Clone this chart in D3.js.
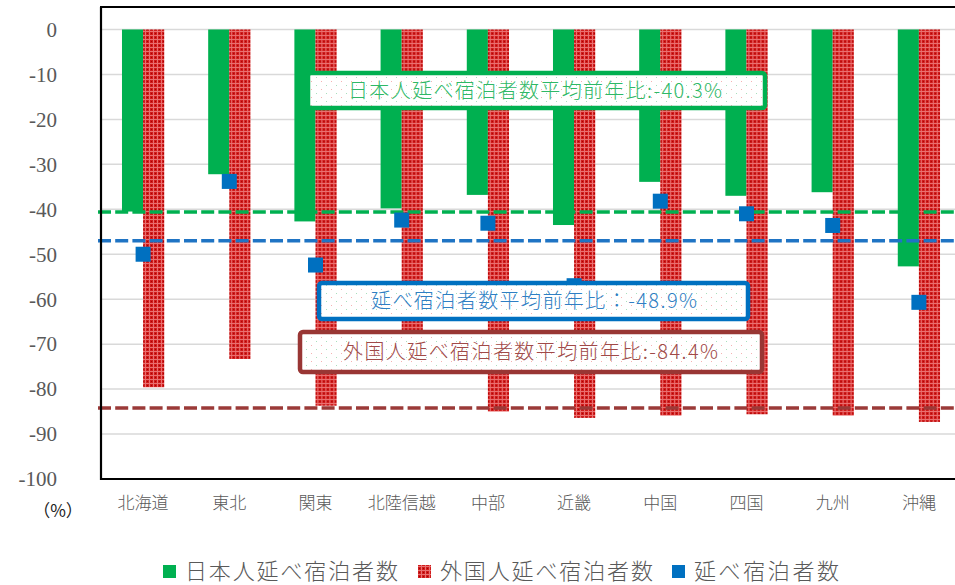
<!DOCTYPE html>
<html>
<head>
<meta charset="utf-8">
<script src="https://cdn.jsdelivr.net/npm/d3@7"></script>
<style>
  body { margin: 0; background: #fff; }
  svg { display: block; }
  .tick-label { font-family: "Liberation Serif", "DejaVu Serif", "Times New Roman", serif; }
  .jp { font-family: "Noto Sans CJK JP", "Noto Sans", sans-serif; }
</style>
</head>
<body>
<div id="chart"></div>
<script>
var width = 955,
    height = 585;

// ******* data ********* //
var regions = ["北海道", "東北", "関東", "北陸信越", "中部", "近畿", "中国", "四国", "九州", "沖縄"];
var japanese = [-40.5, -32.2, -42.7, -39.8, -36.8, -43.5, -33.9, -37.0, -36.2, -52.7];
var foreign = [-79.6, -73.3, -83.7, -76.0, -85.0, -86.4, -85.9, -85.6, -85.9, -87.3];
var total = [-50.0, -33.8, -52.4, -42.4, -43.1, -57.0, -38.2, -41.0, -43.6, -60.7];
var seriesNames = ["日本人延べ宿泊者数", "外国人延べ宿泊者数", "延べ宿泊者数"];
var yTicks = [0, -10, -20, -30, -40, -50, -60, -70, -80, -90, -100];

// average lines (as drawn) and their labels
var avgLines = [
    { key: "jp", value: -40.6, color: "#00b050" },
    { key: "all", value: -47.0, color: "#1f74c4" },
    { key: "fr", value: -84.2, color: "#9b3a38" }
];
var avgLabels = [
    { key: "jp", text: "日本人延べ宿泊者数平均前年比:-40.3%", color: "#00b050", text_color: "#2fb866" },
    { key: "all", text: "延べ宿泊者数平均前年比：-48.9%", color: "#0070c0", text_color: "#2f7fc4" },
    { key: "fr", text: "外国人延べ宿泊者数平均前年比:-84.4%", color: "#993634", text_color: "#a04a48" }
];

var margin = { left: 101, top: 7, right: -7, bottom: 106 };
var plotW = width - margin.left - margin.right,   // runs past the window like the source
    plotH = height - margin.top - margin.bottom;

var svg = d3.select("#chart")
    .append("svg")
    .attr("width", width)
    .attr("height", height);

var defs = svg.append("defs");

// red bar: little plaid pattern
var pat = defs.append("pattern")
    .attr("id", "redgrid")
    .attr("patternUnits", "userSpaceOnUse")
    .attr("width", 4).attr("height", 4);
pat.append("rect").attr("width", 4).attr("height", 4).attr("fill", "#d01c1c");
pat.append("rect").attr("x", 0).attr("y", 3).attr("width", 4).attr("height", 1).attr("fill", "#e97070");
pat.append("rect").attr("x", 3).attr("y", 0).attr("width", 1).attr("height", 4).attr("fill", "#e97070");
pat.append("rect").attr("x", 1).attr("y", 1).attr("width", 1).attr("height", 1).attr("fill", "#a80000");

// box background: white with sparse dots
var dots = defs.append("pattern")
    .attr("id", "boxdots")
    .attr("patternUnits", "userSpaceOnUse")
    .attr("width", 10).attr("height", 8);
dots.append("rect").attr("width", 10).attr("height", 8).attr("fill", "#fff");
dots.append("rect").attr("x", 1).attr("y", 1).attr("width", 1).attr("height", 1).attr("fill", "#f4b3b3");
dots.append("rect").attr("x", 6).attr("y", 5).attr("width", 1).attr("height", 1).attr("fill", "#a8e0bd");

// ******* scales ********* //
var x0 = d3.scaleBand()
    .domain(regions)
    .range([margin.left - 1, margin.left - 1 + 862])
    .paddingInner(0.51)
    .paddingOuter(0.255);
var x1 = d3.scaleBand()
    .domain(["jp", "fr"])
    .range([0, x0.bandwidth()]);
var y = d3.scaleLinear()
    .domain([-100, 5])
    .range([margin.top + plotH, margin.top]);

var g = svg.append("g");

// gridlines
g.append("g")
    .selectAll("line")
    .data(yTicks.filter(function(d) { return d > -100; }))
    .enter().append("line")
    .attr("x1", margin.left)
    .attr("x2", margin.left + plotW)
    .attr("y1", function(d) { return y(d); })
    .attr("y2", function(d) { return y(d); })
    .attr("stroke", "#d9d9d9")
    .attr("stroke-width", 1.5);

// ******* bars ********* //
var rows = regions.map(function(r, i) {
    return { region: r, jp: japanese[i], fr: foreign[i], all: total[i] };
});

var groups = g.append("g")
    .selectAll("g")
    .data(rows)
    .enter().append("g")
    .attr("transform", function(d) { return "translate(" + x0(d.region) + ",0)"; });

groups.append("rect")
    .attr("x", x1("jp"))
    .attr("width", x1.bandwidth())
    .attr("y", y(0))
    .attr("height", function(d) { return y(d.jp) - y(0); })
    .attr("fill", "#00b050");

groups.append("rect")
    .attr("x", x1("fr"))
    .attr("width", x1.bandwidth())
    .attr("y", y(0))
    .attr("height", function(d) { return y(d.fr) - y(0); })
    .attr("fill", "url(#redgrid)");

// ******* average lines ********* //
g.append("g")
    .selectAll("line")
    .data(avgLines)
    .enter().append("line")
    .attr("x1", margin.left - 3)
    .attr("x2", width)
    .attr("y1", function(d) { return y(d.value); })
    .attr("y2", function(d) { return y(d.value); })
    .attr("stroke", function(d) { return d.color; })
    .attr("stroke-width", 3.5)
    .attr("stroke-dasharray", "13,4.2");

// ******* markers ********* //
var mk = 15;
g.append("g")
    .selectAll("rect")
    .data(rows)
    .enter().append("rect")
    .attr("x", function(d) { return x0(d.region) + x0.bandwidth() / 2 - mk / 2; })
    .attr("y", function(d) { return y(d.all) - mk / 2; })
    .attr("width", mk)
    .attr("height", mk)
    .attr("fill", "#0070c0");

// frame (left, top, bottom)
var frame = g.append("g").attr("stroke", "#000").attr("stroke-width", 2.2);
frame.append("line").attr("x1", margin.left).attr("x2", margin.left)
    .attr("y1", y(5)).attr("y2", y(-100) + 1);
frame.append("line").attr("x1", margin.left - 1).attr("x2", width)
    .attr("y1", y(5)).attr("y2", y(5));
frame.append("line").attr("x1", margin.left - 1).attr("x2", width)
    .attr("y1", y(-100)).attr("y2", y(-100));

// ******* y tick labels ********* //
g.append("g")
    .selectAll("text")
    .data(yTicks)
    .enter().append("text")
    .attr("class", "tick-label")
    .attr("x", 57)
    .attr("y", function(d) { return y(d); })
    .attr("dy", "0.35em")
    .attr("text-anchor", "end")
    .style("font-size", "21px")
    .attr("fill", "#595959")
    .text(function(d) { return d; });

g.append("text")
    .attr("class", "jp")
    .attr("x", 58).attr("y", 511)
    .attr("dy", "0.35em")
    .attr("text-anchor", "middle")
    .style("font-size", "17px")
    .attr("fill", "#222")
    .text("（%）");

// category labels
g.append("g")
    .selectAll("text")
    .data(regions)
    .enter().append("text")
    .attr("class", "jp")
    .attr("x", function(d) { return x0(d) + x0.bandwidth() / 2; })
    .attr("y", 503)
    .attr("dy", "0.35em")
    .attr("text-anchor", "middle")
    .style("font-weight", 300)
    .style("font-size", "17px")
    .attr("fill", "#595959")
    .text(function(d) { return d; });

// ******* annotation boxes ********* //
var boxPos = {
    jp: { x: 308, y: 73, w: 457, h: 35, tx: 348, tw: 374 },
    all: { x: 319, y: 283, w: 429, h: 36, tx: 371, tw: 326 },
    fr: { x: 300, y: 332, w: 462, h: 40, tx: 343, tw: 375 }
};
var boxes = g.append("g")
    .selectAll("g")
    .data(avgLabels)
    .enter().append("g");

boxes.append("rect")
    .attr("x", function(d) { return boxPos[d.key].x; })
    .attr("y", function(d) { return boxPos[d.key].y; })
    .attr("width", function(d) { return boxPos[d.key].w; })
    .attr("height", function(d) { return boxPos[d.key].h; })
    .attr("rx", 3)
    .attr("fill", "url(#boxdots)")
    .attr("stroke", function(d) { return d.color; })
    .attr("stroke-width", 4.5);

boxes.append("text")
    .attr("class", "jp")
    .attr("x", function(d) { return boxPos[d.key].tx; })
    .attr("y", function(d) { return boxPos[d.key].y + boxPos[d.key].h / 2; })
    .attr("dy", "0.36em")
    .attr("textLength", function(d) { return boxPos[d.key].tw; })
    .attr("lengthAdjust", "spacing")
    .style("font-weight", 300)
    .style("font-size", "20px")
    .attr("fill", function(d) { return d.text_color; })
    .text(function(d) { return d.text; });

// ******* legend ********* //
var legendColors = ["#00b050", "url(#redgrid)", "#0070c0"];
var legendX = [163, 418, 672];
var legendW = [213, 213, 145];
var legend = svg.append("g")
    .selectAll("g")
    .data(seriesNames)
    .enter().append("g")
    .attr("transform", function(d, i) { return "translate(" + legendX[i] + ",571)"; });

legend.append("rect")
    .attr("x", 0).attr("y", -6)
    .attr("width", 13).attr("height", 13)
    .attr("fill", function(d, i) { return legendColors[i]; });

legend.append("text")
    .attr("class", "jp")
    .attr("x", 22)
    .attr("y", 0)
    .attr("dy", "0.36em")
    .attr("textLength", function(d, i) { return legendW[i]; })
    .attr("lengthAdjust", "spacing")
    .style("font-weight", 300)
    .style("font-size", "22px")
    .attr("fill", "#595959")
    .text(function(d) { return d; });
</script>
</body>
</html>
